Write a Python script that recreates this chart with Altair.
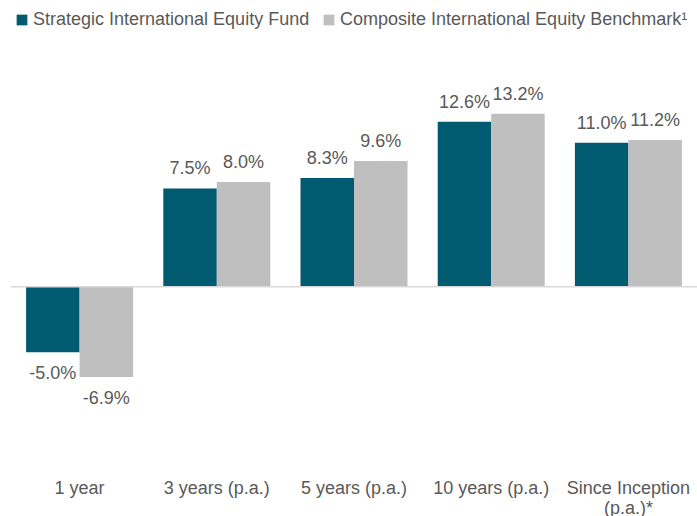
import altair as alt
import pandas as pd

categories = ["1 year", "3 years (p.a.)", "5 years (p.a.)", "10 years (p.a.)", "Since Inception (p.a.)*"]
series_names = ["Strategic International Equity Fund", "Composite International Equity Benchmark\u00b9"]
fund_values = [-5.0, 7.5, 8.3, 12.6, 11.0]
bench_values = [-6.9, 8.0, 9.6, 13.2, 11.2]
colors = ["#005B70", "#BFBFBF"]

rows = []
for i, c in enumerate(categories):
    for s, vals in zip(series_names, [fund_values, bench_values]):
        v = vals[i]
        rows.append({"category": c, "series": s, "value": v, "label": f"{v:.1f}%"})
df = pd.DataFrame(rows)

FONT = "Liberation Sans"
TXT = "#595959"

x_enc = alt.X("category:N", sort=categories, title=None,
              scale=alt.Scale(paddingInner=0.22, paddingOuter=0.11),
              axis=alt.Axis(orient="bottom", domain=False, ticks=False, labelPadding=9,
                            labelFontSize=18, labelColor=TXT, labelFont=FONT, labelAngle=0,
                            labelLineHeight=20, labelLimit=300,
                            labelExpr="datum.label == 'Since Inception (p.a.)*' ? ['Since Inception', '(p.a.)*'] : datum.label"))
xoff = alt.XOffset("series:N", sort=series_names, scale=alt.Scale(paddingInner=0.0))
y_enc = alt.Y("value:Q", scale=alt.Scale(domain=[-14, 18]), axis=None, title=None)

base = alt.Chart(df)

bars = base.mark_bar().encode(
    x=x_enc, xOffset=xoff, y=y_enc, y2=alt.datum(0),
    color=alt.Color("series:N", sort=series_names,
                    scale=alt.Scale(domain=series_names, range=colors),
                    legend=alt.Legend(title=None, orient="none", direction="horizontal",
                                      legendX=2, legendY=-40, padding=0,
                                      symbolType="square", symbolSize=115, symbolStrokeWidth=0,
                                      labelFontSize=18, labelColor=TXT, labelFont=FONT,
                                      labelOffset=2, columnPadding=10, labelLimit=500)),
)

zero = alt.Chart(pd.DataFrame({"z": [0]})).mark_rule(color="#D9D9D9", strokeWidth=1.5).encode(
    y=alt.Y("z:Q", scale=alt.Scale(domain=[-14, 18]), axis=None)
)

pos_labels = base.transform_filter("datum.value >= 0").mark_text(
    fontSize=18, color=TXT, font=FONT, baseline="middle", dy=-19
).encode(x=x_enc, xOffset=xoff, y=y_enc, text="label:N")

neg_labels = base.transform_filter("datum.value < 0").mark_text(
    fontSize=18, color=TXT, font=FONT, baseline="middle", dy=22
).encode(x=x_enc, xOffset=xoff, y=y_enc, text="label:N")

chart = alt.layer(bars, zero, pos_labels, neg_labels).properties(
    width=686, height=419,
    autosize=alt.AutoSizeParams(type="none"),
    padding={"left": 11, "top": 51, "right": 0, "bottom": 46},
).configure(font=FONT).configure_view(stroke=None, strokeWidth=0)

chart.save("out.html", embed_options={"renderer": "svg", "actions": False})
